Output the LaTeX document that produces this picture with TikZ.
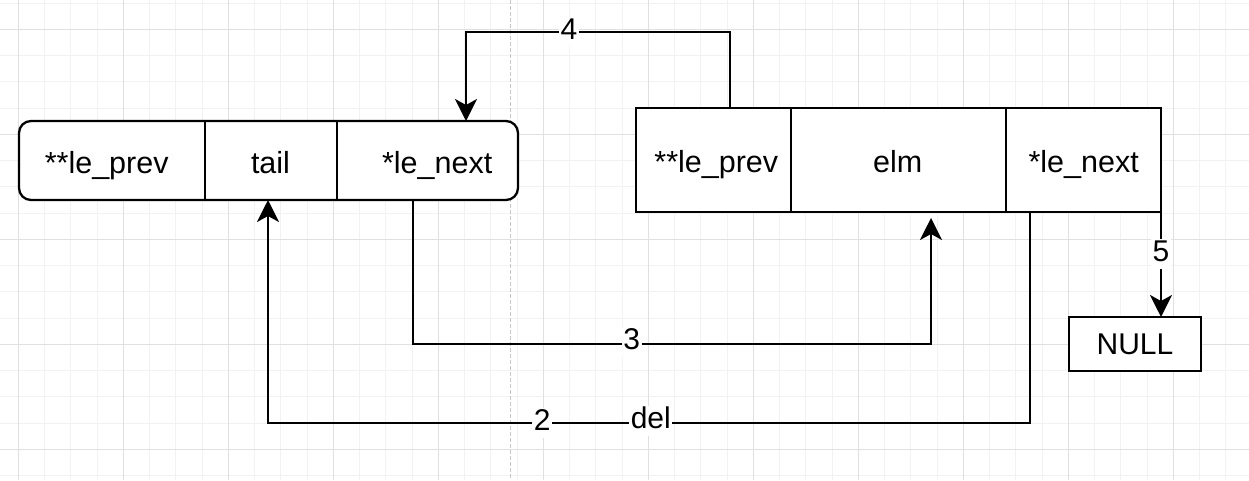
\documentclass[tikz,border=0pt]{standalone}
\usepackage{fontspec}
\setmainfont{Liberation Sans}
\usetikzlibrary{arrows.meta}
\tikzset{
  minorgrid/.style={draw=black!5, line width=0.8pt},
  majorgrid/.style={draw=black!12, line width=0.9pt},
  pagebreak/.style={draw=black!22, line width=1pt, dash pattern=on 3.5pt off 2.5pt},
  cell/.style={draw, line width=2.3pt, fill=white, inner sep=0pt, outer sep=0pt},
  slot/.style={inner sep=0pt, outer sep=0pt},
  txt/.style={font=\fontsize{30.5}{36}\selectfont, anchor=base, inner sep=0pt},
  conn/.style={draw, line width=2.3pt, -{Stealth[length=22pt, width=22pt, inset=6pt]}},
  lbl/.style={font=\fontsize{30}{36}\selectfont, fill=white, inner xsep=1.5pt, inner ysep=0pt, text height=22pt, text depth=8pt, anchor=base},
}
\begin{document}
\begin{tikzpicture}[x=1pt,y=-1pt]
\useasboundingbox (0,0) rectangle (1249,480);
\fill[white] (0,0) rectangle (1249,480);
% grid
\foreach \i in {0,...,48} \draw[minorgrid] ({-7.95+26.25*\i},0) -- ({-7.95+26.25*\i},480);
\foreach \j in {0,...,18} \draw[minorgrid] (0,{3.05+26.25*\j}) -- (1249,{3.05+26.25*\j});
\foreach \i in {0,...,11} \draw[majorgrid] ({18.3+105*\i},0) -- ({18.3+105*\i},480);
\foreach \j in {0,...,4} \draw[majorgrid] (0,{29.3+105*\j}) -- (1249,{29.3+105*\j});
\draw[pagebreak] (510.7,0) -- (510.7,480);

% left structure
\node[cell, rounded corners=12pt, minimum width=499pt, minimum height=79pt] (lbox) at (268.5,160.5) {};
\node[slot, minimum width=186pt, minimum height=79pt] (lprev) at (112,160.5) {};
\node[slot, minimum width=132pt, minimum height=79pt] (ltail) at (271,160.5) {};
\node[slot, minimum width=181pt, minimum height=79pt] (lnext) at (427.5,160.5) {};
\draw[line width=2.3pt] (ltail.north west) -- (ltail.south west);
\draw[line width=2.3pt] (lnext.north west) -- (lnext.south west);
\node[txt] (tlprev) at (106.7,173.3) {**le\_prev};
\node[txt] (tltail) at (270.5,173.3) {tail};
\node[txt] (tlnext) at (437.2,173.3) {*le\_next};

% right structure
\node[cell, minimum width=155pt, minimum height=104pt] (rprev) at (713.5,160) {};
\node[cell, minimum width=215pt, minimum height=104pt] (relm) at (898.5,160) {};
\node[cell, minimum width=155pt, minimum height=104pt] (rnext) at (1083.5,160) {};
\node[txt] (trprev) at (716.3,172.7) {**le\_prev};
\node[txt] (trelm) at (897.8,172.7) {elm};
\node[txt] (trnext) at (1083.7,172.7) {*le\_next};

% NULL
\node[cell, minimum width=132pt, minimum height=54pt, font=\fontsize{30}{36}\selectfont] (null) at (1135,344) {NULL};

% connectors
\coordinate (b4) at (466,32.3);
\draw[conn] ([xshift=16.5pt]rprev.north) |- (b4) -- ([xshift=38.5pt]lnext.north);
\coordinate (b3) at (931,344);
\draw[conn, shorten >=6pt] ([xshift=-14.5pt]lnext.south) |- (b3) -- ([xshift=32.5pt]relm.south);
\coordinate (b2) at (268,423);
\draw[conn] ([xshift=-53.5pt]rnext.south) |- (b2) -- ([xshift=-3pt]ltail.south);
\draw[conn] (rnext.south east) -- ([xshift=26pt]null.north);

% labels
\node[lbl] (l4) at (569,39.3) {4};
\node[lbl] (l3) at (631.7,349.3) {3};
\node[lbl] (l2) at (542.3,430) {2};
\node[lbl] (ldel) at (650.8,428) {del};
\node[lbl] (l5) at (1161,261) {5};
\end{tikzpicture}
\end{document}
